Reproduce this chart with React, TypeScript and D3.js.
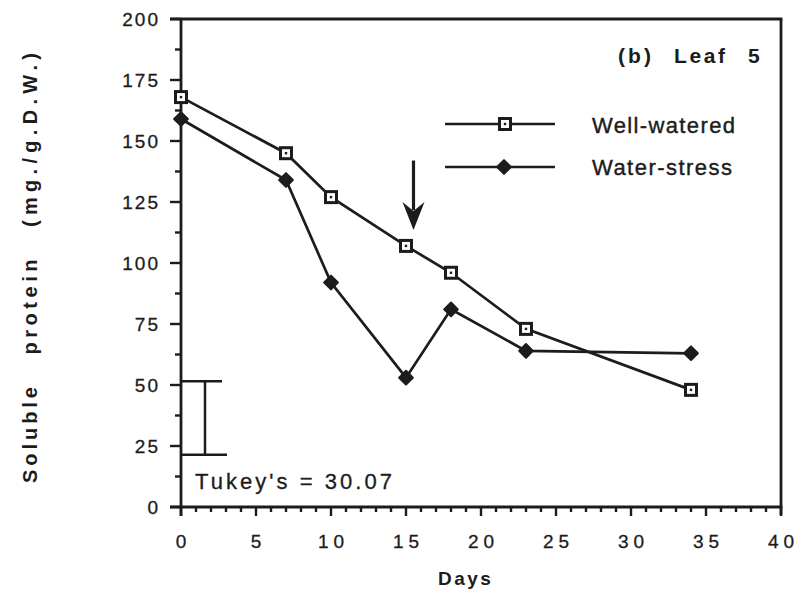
import React from "react";
import * as d3 from "d3";

// Sampling days and soluble protein content (mg/g D.W.) for leaf 5
const days = [0, 7, 10, 15, 18, 23, 34];
const wellWatered = [168, 145, 127, 107, 96, 73, 48];
const waterStress = [159, 134, 92, 53, 81, 64, 63];

const xTicks = [0, 5, 10, 15, 20, 25, 30, 35, 40];
const yTicks = [0, 25, 50, 75, 100, 125, 150, 175, 200];

// Tukey's HSD bar: top of bar and its length
const tukeyTop = 51.5;
const tukeyValue = 30.07;

// Arrow marking the re-watering day
const arrowDay = 15.5;
const arrowFrom = 142;
const arrowTo = 113.5;

const W = 800;
const H = 596;
const left = 181;
const right = 781;
const top = 19;
const bottom = 507;

const FONT = "'Liberation Sans', Arial, Helvetica, sans-serif";
const INK = "#1c1c1c";

export default function App() {
  const x = d3.scaleLinear().domain([0, 40]).range([left, right]);
  const y = d3.scaleLinear().domain([0, 200]).range([bottom, top]);

  const line = d3
    .line<number>()
    .x((_, i) => x(days[i]))
    .y((v) => y(v));

  const xMinor = d3.range(0, 40.01, 1);
  const yMinor = d3.range(0, 200.01, 12.5);

  const diamond = d3.symbol().type(d3.symbolDiamond2).size(120)() as string;

  const Square = ({ cx, cy }: { cx: number; cy: number }) => (
    <g>
      <rect x={cx - 5.5} y={cy - 5.5} width={11} height={11} fill="#fff" stroke={INK} strokeWidth={3} />
      <rect x={cx - 1.2} y={cy - 1.2} width={2.4} height={2.4} fill={INK} />
    </g>
  );
  const Diamond = ({ cx, cy }: { cx: number; cy: number }) => (
    <path d={diamond} transform={`translate(${cx},${cy})`} fill={INK} stroke={INK} strokeWidth={2} strokeLinejoin="round" />
  );

  const ax = x(arrowDay);
  const tipY = y(arrowTo);
  const headTop = tipY - 28;

  return (
    <div style={{ position: "absolute", left: 0, top: 0 }}>
      <svg width={W} height={H} viewBox={`0 0 ${W} ${H}`} style={{ display: "block", background: "#fff" }}>
        {/* frame */}
        <g stroke={INK} strokeWidth={2.8} fill="none">
          <line x1={left - 11} y1={top} x2={right + 1.4} y2={top} />
          <line x1={right} y1={top} x2={right} y2={bottom + 8} />
          <line x1={left} y1={top} x2={left} y2={bottom + 9} />
          <line x1={left - 11} y1={bottom} x2={right + 1.4} y2={bottom} />
        </g>

        {/* y ticks */}
        <g stroke={INK} strokeWidth={2.4}>
          {yMinor.map((v) => {
            const major = Math.abs(v % 25) < 1e-6;
            return <line key={v} x1={left - (major ? 11 : 6)} x2={left} y1={y(v)} y2={y(v)} />;
          })}
        </g>
        {/* x ticks */}
        <g stroke={INK} strokeWidth={2.4}>
          {xMinor.map((v) => {
            const major = v % 5 === 0;
            return <line key={v} x1={x(v)} x2={x(v)} y1={bottom} y2={bottom + (major ? 9 : 5)} />;
          })}
        </g>

        {/* tick labels */}
        <g fontFamily={FONT} fontSize={19} fill={INK} stroke={INK} strokeWidth={0.3}>
          {yTicks.map((v) => (
            <text key={v} x={158 + 2} y={y(v) + 7} textAnchor="end" letterSpacing={2}>
              {v}
            </text>
          ))}
          {xTicks.map((v) => (
            <text key={v} x={x(v) + 2.5} y={548} textAnchor="middle" letterSpacing={5}>
              {v}
            </text>
          ))}
        </g>

        {/* axis titles */}
        <text x={438} y={585} fontFamily={FONT} fontSize={19} fontWeight="bold" fill={INK} letterSpacing={2.5}>
          Days
        </text>
        <g fontFamily={FONT} fontSize={20} fontWeight="bold" fill={INK}>
          <text transform="translate(37,435) rotate(-90)" textAnchor="middle" textLength={96} lengthAdjust="spacing">
            Soluble
          </text>
          <text transform="translate(37,307) rotate(-90)" textAnchor="middle" textLength={95} lengthAdjust="spacing">
            protein
          </text>
          <text transform="translate(37,140) rotate(-90)" textAnchor="middle" textLength={174} lengthAdjust="spacing">
            (mg./g.D.W.)
          </text>
        </g>

        {/* panel label */}
        <g fontFamily={FONT} fontSize={21} fontWeight="bold" fill={INK}>
          <text x={618} y={63} textLength={33} lengthAdjust="spacing">(b)</text>
          <text x={674} y={63} textLength={51} lengthAdjust="spacing">Leaf</text>
          <text x={748} y={63}>5</text>
        </g>

        {/* series lines */}
        <path d={line(wellWatered) as string} fill="none" stroke={INK} strokeWidth={2.7} />
        <path d={line(waterStress) as string} fill="none" stroke={INK} strokeWidth={2.7} />
        {waterStress.map((v, i) => (
          <Diamond key={`d${i}`} cx={x(days[i])} cy={y(v)} />
        ))}
        {wellWatered.map((v, i) => (
          <Square key={`s${i}`} cx={x(days[i])} cy={y(v)} />
        ))}

        {/* arrow */}
        <line x1={ax} x2={ax} y1={y(arrowFrom)} y2={headTop + 8} stroke={INK} strokeWidth={3.2} />
        <path
          d={`M${ax - 11},${headTop} L${ax},${headTop + 9} L${ax + 11},${headTop} L${ax},${tipY} Z`}
          fill={INK}
        />

        {/* legend */}
        <g stroke={INK} strokeWidth={2.7}>
          <line x1={445} x2={555} y1={124} y2={124} />
          <line x1={445} x2={555} y1={167} y2={167} />
        </g>
        <Square cx={505} cy={124} />
        <Diamond cx={504} cy={167} />
        <g fontFamily={FONT} fontSize={22} fill={INK} stroke={INK} strokeWidth={0.4}>
          <text x={592} y={132.5} textLength={143} lengthAdjust="spacing">Well-watered</text>
          <text x={592} y={175} textLength={140} lengthAdjust="spacing">Water-stress</text>
        </g>

        {/* Tukey's HSD bar */}
        <g stroke={INK} strokeWidth={2.5}>
          <line x1={left} x2={222} y1={y(tukeyTop)} y2={y(tukeyTop)} />
          <line x1={left} x2={227} y1={y(tukeyTop - tukeyValue)} y2={y(tukeyTop - tukeyValue)} />
          <line x1={205} x2={205} y1={y(tukeyTop)} y2={y(tukeyTop - tukeyValue)} />
        </g>
        <text x={195} y={489} fontFamily={FONT} fontSize={22} fill={INK} stroke={INK} strokeWidth={0.3} textLength={197} lengthAdjust="spacing">
          Tukey's = 30.07
        </text>
      </svg>
    </div>
  );
}
